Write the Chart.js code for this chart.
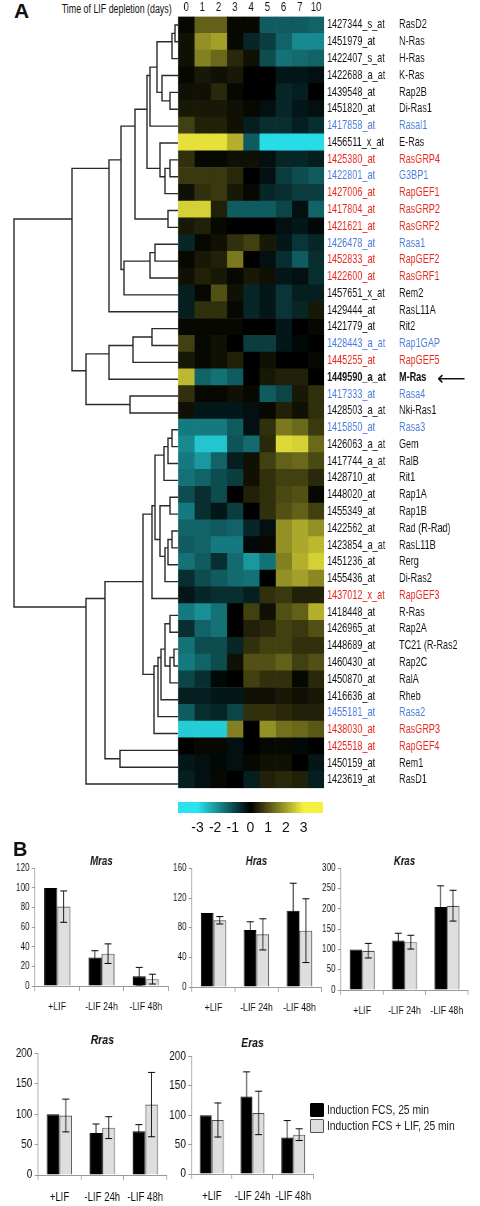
<!DOCTYPE html>
<html>
<head>
<meta charset="utf-8">
<title>Ras family expression</title>
<script src="https://cdn.jsdelivr.net/npm/chart.js@4.4.1/dist/chart.umd.min.js"></script>
<style>
  body { margin: 0; background: #fff; }
  #page { position: relative; width: 480px; height: 1206px; overflow: hidden; background: #fff; }
  #page canvas, #page .txt, #page .key { position: absolute; }
  .txt { font-family: 'Liberation Sans', Arial, sans-serif; color: #111; white-space: nowrap; }
  .panel { font-weight: bold; }
  .key { width: 12px; height: 12px; border: 1px solid #505050; border-radius: 1px; }
  .keytxt { font-size: 12px; line-height: 14px; transform: scaleX(0.86); transform-origin: 0 0; color: #222; }
</style>
</head>
<body>
<div id="page">
  <div class="txt panel" style="left:14px;top:-1px;font-size:21px;">A</div>
  <div class="txt" style="right:308px;top:2px;font-size:12.3px;transform:scaleX(0.72);transform-origin:100% 0;">Time of LIF depletion (days)</div>
  <canvas id="dendro"></canvas>
  <canvas id="heat"></canvas>
  <div class="txt" style="left:437px;top:367px;font-size:20px;line-height:22px;font-family:'DejaVu Sans',sans-serif;">&#x27F5;</div>
  <canvas id="cbar"></canvas>
  <div class="txt panel" style="left:13px;top:838px;font-size:20px;">B</div>
  <canvas id="mras"></canvas>
  <canvas id="hras"></canvas>
  <canvas id="kras"></canvas>
  <canvas id="rras"></canvas>
  <canvas id="eras"></canvas>
  <div class="key" style="left:310px;top:1103px;background:#000;border-color:#000;"></div>
  <div class="txt keytxt" id="key0" style="left:327px;top:1103px;"></div>
  <div class="key" style="left:310px;top:1119px;background:#dedede;"></div>
  <div class="txt keytxt" id="key1" style="left:327px;top:1119px;"></div>
</div>
<script>
// ---- panel A data ----
const days = ['0', '1', '2', '3', '4', '5', '6', '7', '10'];
const probes = ['1427344_s_at','1451979_at','1422407_s_at','1422688_a_at','1439548_at','1451820_at',
  '1417858_at','1456511_x_at','1425380_at','1422801_at','1427006_at','1417804_at','1421621_at',
  '1426478_at','1452833_at','1422600_at','1457651_x_at','1429444_at','1421779_at','1428443_a_at',
  '1445255_at','1449590_a_at','1417333_at','1428503_a_at','1415850_at','1426063_a_at','1417744_a_at',
  '1428710_at','1448020_at','1455349_at','1422562_at','1423854_a_at','1451236_at','1455436_at',
  '1437012_x_at','1418448_at','1426965_at','1448689_at','1460430_at','1450870_at','1416636_at',
  '1455181_at','1438030_at','1425518_at','1450159_at','1423619_at'];
const genes = ['RasD2','N-Ras','H-Ras','K-Ras','Rap2B','Di-Ras1','Rasal1','E-Ras','RasGRP4','G3BP1',
  'RapGEF1','RasGRP2','RasGRF2','Rasa1','RapGEF2','RasGRF1','Rem2','RasL11A','Rit2','Rap1GAP',
  'RapGEF5','M-Ras','Rasa4','Nki-Ras1','Rasa3','Gem','RalB','Rit1','Rap1A','Rap1B','Rad (R-Rad)',
  'RasL11B','Rerg','Di-Ras2','RapGEF3','R-Ras','Rap2A','TC21 (R-Ras2','Rap2C','RalA','Rheb','Rasa2',
  'RasGRP3','RapGEF4','Rem1','RasD1'];
const GAPS = ['Rasal1','G3BP1','Rasa1','Rap1GAP','Rasa4','Rasa3','Rasa2'];
const GEFS = ['RasGRP4','RapGEF1','RasGRP2','RasGRF2','RapGEF2','RasGRF1','RapGEF5','RapGEF3','RasGRP3','RapGEF4'];
const markedGene = 'M-Ras';

// log-ratio per probe, columns follow days
const expr = [
  [0.1, 1.2, 1.2, 0.1, 0.1, -1.2, -1.2, -1.2, -1.3],
  [0.2, 1.8, 2.0, 0.1, -0.5, -0.8, -1.3, -1.8, -1.8],
  [0.2, 1.6, 1.3, 0.5, 0.2, -1.0, -1.5, -1.4, -1.3],
  [0.1, 0.3, 0.2, 0.3, 0.0, 0.0, -0.3, -0.3, -0.2],
  [0.2, 0.2, 0.5, 0.1, 0.0, 0.0, -0.5, -0.4, 0.0],
  [0.3, 0.3, 0.3, 0.2, 0.1, -0.2, -0.5, -0.3, -0.2],
  [0.8, 0.4, 0.4, 0.2, -0.4, -0.6, -0.6, -0.4, -0.6],
  [2.8, 2.8, 2.8, 2.2, -1.2, -2.9, -2.9, -2.9, -2.9],
  [0.6, 0.1, 0.1, 0.2, 0.2, -0.2, -0.5, -0.5, -0.4],
  [0.7, 0.7, 0.7, 0.5, 0.0, -0.2, -0.8, -1.0, -1.2],
  [0.2, 0.6, 0.7, 0.3, 0.1, -0.5, -0.6, -0.8, -0.8],
  [2.6, 2.6, 0.4, -1.2, -1.2, -1.2, -0.9, -0.2, -1.3],
  [0.3, 0.4, 0.1, 0.0, 0.0, 0.0, -0.2, -0.3, -0.1],
  [-0.5, 0.1, 0.2, 0.6, 0.8, 0.3, -0.3, -0.7, -0.5],
  [0.1, 0.3, 0.4, 1.5, 0.0, -0.2, -0.6, -1.2, -0.6],
  [0.2, 0.4, 0.3, 0.1, 0.3, 0.2, -0.3, -0.2, -0.6],
  [-0.4, 0.1, 1.0, 0.2, -0.5, -0.3, -0.7, -0.4, -0.4],
  [-0.4, 0.6, 0.6, 0.1, -0.5, -0.3, -0.7, -0.5, 0.3],
  [0.1, 0.1, 0.1, 0.1, 0.0, 0.0, -0.3, 0.0, 0.1],
  [0.8, 0.1, 0.2, 0.0, -0.8, -0.8, -0.3, -0.1, 0.0],
  [0.3, 0.1, 0.2, 0.4, 0.0, 0.2, 0.0, 0.0, 0.1],
  [2.3, -1.3, -1.5, -1.2, 0.0, 0.3, 0.4, 0.4, 0.0],
  [0.6, 0.1, 0.1, 0.2, 0.1, -1.2, -0.9, 0.3, 0.6],
  [0.2, -0.3, -0.3, -0.3, -0.2, 0.1, 0.4, 0.2, 0.6],
  [-1.6, -1.6, -1.6, -1.2, -0.2, 0.6, 1.5, 1.3, 0.7],
  [-1.8, -2.6, -2.6, -1.1, -1.4, 0.5, 2.7, 2.6, 1.3],
  [-1.6, -2.0, -1.3, -0.4, 0.2, 0.8, 1.2, 1.3, 0.9],
  [-1.5, -1.3, -1.0, -0.8, 0.2, 0.6, 0.8, 0.8, 0.5],
  [-1.0, -0.6, -1.0, 0.0, 0.4, 0.6, 0.9, 1.0, 0.1],
  [-1.6, -0.6, -0.3, -0.8, 0.0, 0.6, 1.0, 1.2, 0.8],
  [-1.3, -1.3, -1.2, -1.3, -0.5, -0.2, 1.8, 2.1, 1.8],
  [-1.2, -1.3, -1.6, -1.6, -0.1, 0.1, 1.8, 2.1, 2.3],
  [-1.5, -1.2, -0.6, -1.4, -2.0, -1.5, 1.6, 2.2, 2.6],
  [-0.6, -1.0, -1.2, -1.4, -1.5, 0.0, 1.8, 2.0, 1.7],
  [-0.3, -0.5, -0.6, -0.6, -0.4, 0.6, 0.7, 0.4, 0.4],
  [-1.6, -1.9, -1.5, 0.0, 0.8, 0.2, 1.0, 1.2, 2.2],
  [-0.6, -1.3, -1.5, 0.0, 0.4, 0.5, 0.8, 0.7, 1.0],
  [-1.5, -1.0, -1.0, -0.5, 0.6, 0.8, 0.8, 0.6, 0.6],
  [-1.6, -1.3, -1.0, 0.2, 1.0, 1.0, 1.2, 0.8, 1.0],
  [-0.9, -0.6, -0.1, 0.0, 0.8, 0.6, 0.6, 0.1, 0.5],
  [-0.4, -0.4, -0.3, -0.3, 0.2, 0.2, 0.3, 0.2, 0.3],
  [-1.2, -0.6, -0.5, -0.9, 0.6, 0.6, 0.5, 0.4, 0.4],
  [-2.7, -2.7, -2.7, 1.6, 0.0, 1.8, 1.4, 1.3, 1.1],
  [0.0, 0.1, 0.1, -0.2, 0.0, 0.1, 0.1, -0.1, 0.0],
  [-0.3, -0.2, -0.1, -0.2, 0.1, 0.2, 0.2, 0.0, -0.3],
  [-0.4, -0.2, 0.1, 0.0, -0.4, 0.4, 0.5, 0.4, -0.4]
];

// hierarchical clustering: [child a, child b, distance]; ids >= 46 are earlier merges
const merges = [
  [0, 1, 3], [46, 2, 6], [4, 5, 8], [3, 48, 16], [47, 49, 21], [50, 6, 28],
  [8, 9, 8], [52, 10, 13], [7, 53, 18], [51, 54, 31], [11, 12, 10], [55, 56, 43],
  [13, 14, 23], [58, 15, 28], [59, 16, 54], [57, 60, 57], [61, 17, 69],
  [18, 19, 26], [63, 20, 45], [64, 21, 69], [22, 23, 48], [65, 66, 92], [62, 67, 106],
  [24, 25, 6], [69, 26, 10], [70, 27, 14], [28, 29, 8], [30, 31, 6], [73, 32, 10],
  [74, 33, 13], [72, 75, 18], [71, 76, 23], [77, 34, 26],
  [35, 36, 8], [37, 38, 4], [80, 39, 8], [79, 81, 13], [82, 40, 17], [83, 41, 20],
  [84, 42, 24], [78, 85, 35], [43, 44, 58], [86, 87, 73], [88, 45, 92], [68, 89, 164]
];

const scaleTicks = [-3, -2, -1, 0, 1, 2, 3];

// ---- panel B data ----
const conditions = ['+LIF', '-LIF 24h', '-LIF 48h'];
const seriesNames = ['Induction FCS, 25 min', 'Induction FCS + LIF, 25 min'];
const mrasFcs = [100, 29, 10],   mrasFcsErr = [0, 7, 9];
const mrasLif = [81, 33, 7],     mrasLifErr = [16, 10, 5];
const hrasFcs = [100, 77, 103],  hrasFcsErr = [0, 11, 37];
const hrasLif = [90, 71, 76],    hrasLifErr = [5, 21, 43];
const krasFcs = [100, 122, 205], krasFcsErr = [0, 18, 52];
const krasLif = [97, 118, 208],  krasLifErr = [18, 17, 38];
const rrasFcs = [100, 69, 72],   rrasFcsErr = [0, 15, 11];
const rrasLif = [98, 78, 116],   rrasLifErr = [27, 18, 53];
const erasFcs = [100, 132, 62],  erasFcsErr = [0, 42, 29];
const erasLif = [92, 104, 67],   erasLifErr = [29, 37, 10];

const SANS = "'Liberation Sans', Arial, sans-serif";
const SX_A = 0.7;    // the scanned figure is horizontally condensed
const SX_B = 0.8;
Chart.defaults.font.family = SANS;
Chart.defaults.color = '#111';
Chart.defaults.animation = false;
Chart.defaults.responsive = false;
Chart.defaults.plugins.tooltip.enabled = false;

function place(id, left, top, w, h, sx) {
  const c = document.getElementById(id);
  c.width = Math.round(w / sx);
  c.height = h;
  Object.assign(c.style, {
    left: left + 'px', top: top + 'px',
    width: c.width + 'px', height: h + 'px',
    transform: `scaleX(${sx})`, transformOrigin: '0 0'
  });
  return c;
}

function cellColor(v) {
  const t = Math.max(-1, Math.min(1, v / 3));
  if (t >= 0) return `rgb(${Math.round(245 * t)},${Math.round(240 * t)},${Math.round(62 * t)})`;
  const s = -t;
  return `rgb(${Math.round(40 * s)},${Math.round(228 * s)},${Math.round(238 * s)})`;
}

function labelColor(i) {
  if (GAPS.includes(genes[i])) return '#4a7bdb';
  if (GEFS.includes(genes[i])) return '#e8261e';
  return '#111';
}

function labelFont(i) {
  return { family: SANS, size: 13, weight: genes[i] === markedGene ? 'bold' : 'normal' };
}

// dendrogram: a cluster sits halfway between its first and last leaf
const lo = probes.map((_, i) => i);
const hi = probes.map((_, i) => i);
const dist = probes.map(() => 0);
const links = merges.map(([a, b, h]) => {
  const ya = (lo[a] + hi[a]) / 2, yb = (lo[b] + hi[b]) / 2;
  lo.push(Math.min(lo[a], lo[b]));
  hi.push(Math.max(hi[a], hi[b]));
  dist.push(h);
  return [{ x: dist[a], y: ya }, { x: h, y: ya }, { x: h, y: yb }, { x: dist[b], y: yb }];
});

new Chart(place('dendro', 0, 0, 178, 800, 1), {
  type: 'scatter',
  data: {
    datasets: links.map(pts => ({
      data: pts, showLine: true, borderColor: '#2a2a2a', borderWidth: 1.4,
      pointRadius: 0, clip: false
    }))
  },
  options: {
    layout: { padding: { left: 14, right: 0, top: 16.5, bottom: 7.5 } },
    plugins: { legend: { display: false } },
    scales: {
      x: { type: 'linear', display: false, reverse: true, min: 0, max: merges[merges.length - 1][2] },
      y: { type: 'linear', display: false, reverse: true, min: -0.5, max: probes.length - 0.5 }
    }
  }
});

// heatmap: one floating bar per cell
new Chart(place('heat', 0, 0, 480, 800, SX_A), {
  type: 'bar',
  data: {
    labels: probes,
    datasets: days.map((d, c) => ({
      label: d,
      data: probes.map(() => [c, c + 1]),
      backgroundColor: expr.map(row => cellColor(row[c])),
      borderWidth: 0,
      grouped: false,
      barPercentage: 1,
      categoryPercentage: 1
    }))
  },
  options: {
    indexAxis: 'y',
    layout: { padding: { left: 178 / SX_A, right: 0, top: 0, bottom: 7.5 } },
    plugins: { legend: { display: false } },
    scales: {
      x: {
        type: 'linear', position: 'top', min: 0, max: days.length,
        grid: { display: false, drawTicks: false }, border: { display: false },
        afterBuildTicks: s => { s.ticks = days.map((d, i) => ({ value: i + 0.5 })); },
        ticks: { callback: (v, i) => days[i], padding: 1, font: { size: 13.5 }, maxRotation: 0, autoSkip: false },
        afterFit: s => { s.height = 16.5; }
      },
      y: {
        position: 'right',
        grid: { display: false, drawTicks: false }, border: { display: false },
        ticks: { padding: 4, autoSkip: false, color: ctx => labelColor(ctx.index), font: ctx => labelFont(ctx.index) },
        afterFit: s => { s.width = 72 / SX_A; }
      },
      y2: {
        type: 'category', position: 'right', offset: true, labels: genes,
        grid: { display: false, drawTicks: false }, border: { display: false },
        ticks: { padding: 4, autoSkip: false, color: ctx => labelColor(ctx.index), font: ctx => labelFont(ctx.index) },
        afterFit: s => { s.width = 84 / SX_A; }
      }
    }
  }
});

// colour key
new Chart(place('cbar', 0, 795, 480, 45, 1), {
  type: 'bar',
  data: {
    labels: ['key'],
    datasets: [{
      data: [[-4.1, 4.1]],
      barPercentage: 1, categoryPercentage: 1, borderWidth: 0,
      backgroundColor: ctx => {
        const chart = ctx.chart;
        if (!chart.chartArea) return '#000';
        const xs = chart.scales.x;
        const g = chart.ctx.createLinearGradient(xs.getPixelForValue(-3), 0, xs.getPixelForValue(3), 0);
        scaleTicks.forEach((v, i) => g.addColorStop(i / (scaleTicks.length - 1), cellColor(v)));
        return g;
      }
    }]
  },
  options: {
    indexAxis: 'y',
    layout: { padding: { left: 178, right: 157, top: 7, bottom: 0 } },
    plugins: { legend: { display: false } },
    scales: {
      x: {
        type: 'linear', min: -4.1, max: 4.1,
        grid: { display: false, drawTicks: false }, border: { display: false },
        afterBuildTicks: s => { s.ticks = scaleTicks.map(v => ({ value: v })); },
        ticks: { padding: 7, font: { size: 14 }, color: '#111' },
        afterFit: s => { s.height = 27; }
      },
      y: { display: false }
    }
  }
});

// error bars drawn through the value scale
const errorBars = {
  id: 'errorBars',
  afterDatasetsDraw(chart) {
    const { ctx } = chart;
    const y = chart.scales.y;
    const cap = 3.5 / SX_B;
    ctx.save();
    ctx.strokeStyle = '#000';
    ctx.lineWidth = 1;
    chart.data.datasets.forEach((ds, di) => {
      chart.getDatasetMeta(di).data.forEach((bar, i) => {
        const e = ds.errors[i];
        if (!e) return;
        const top = y.getPixelForValue(ds.data[i] + e);
        const bot = y.getPixelForValue(ds.data[i] - e);
        ctx.beginPath();
        ctx.moveTo(bar.x, top); ctx.lineTo(bar.x, bot);
        ctx.moveTo(bar.x - cap, top); ctx.lineTo(bar.x + cap, top);
        ctx.moveTo(bar.x - cap, bot); ctx.lineTo(bar.x + cap, bot);
        ctx.stroke();
      });
    });
    ctx.restore();
  }
};

function barChart(id, title, fcs, fcsErr, lif, lifErr, yMax, step, box) {
  const big = box.big;
  const canvas = place(id, box.left, box.top, box.w, box.h, SX_B);
  const axisW = (box.plotLeft - box.left) / SX_B;
  const padRight = canvas.width - (box.plotRight - box.left) / SX_B;
  return new Chart(canvas, {
    type: 'bar',
    data: {
      labels: conditions,
      datasets: [
        { label: seriesNames[0], data: fcs, errors: fcsErr, backgroundColor: '#000', borderColor: '#000', borderWidth: 1 },
        { label: seriesNames[1], data: lif, errors: lifErr, backgroundColor: '#dedede', borderColor: '#505050', borderWidth: 1.2 }
      ]
    },
    options: {
      datasets: { bar: { categoryPercentage: 0.59, barPercentage: 1 } },
      layout: { padding: { left: 0, right: padRight, top: 0, bottom: 0 } },
      plugins: {
        title: {
          display: true, text: title, fullSize: false, color: '#111',
          font: { size: big ? 13 : 12, style: 'italic', weight: 'bold' },
          padding: big ? { top: 0, bottom: 5 } : { top: 5, bottom: 0 }
        },
        legend: { display: false }
      },
      scales: {
        x: {
          grid: { display: true, drawOnChartArea: false, tickLength: 5, color: '#999', offset: true },
          border: { color: '#999' },
          ticks: { padding: big ? 10 : 9, font: { size: big ? 12 : 11 }, maxRotation: 0, autoSkip: false },
          afterFit: s => { s.height = box.xAxisH; }
        },
        y: {
          min: 0, max: yMax,
          grid: { drawOnChartArea: false, tickLength: 4, color: '#999' },
          border: { color: '#999' },
          ticks: { stepSize: step, padding: 3, font: { size: big ? 12.5 : 10 } },
          afterFit: s => { s.width = axisW; }
        }
      }
    },
    plugins: [errorBars]
  });
}

barChart('mras', 'Mras', mrasFcs, mrasFcsErr, mrasLif, mrasLifErr, 120, 20,
  { left: 0, top: 849, w: 172, h: 167, plotLeft: 35, plotRight: 168, xAxisH: 30 });
barChart('hras', 'Hras', hrasFcs, hrasFcsErr, hrasLif, hrasLifErr, 160, 20,
  { left: 165, top: 849, w: 160, h: 168, plotLeft: 192, plotRight: 321, xAxisH: 30 });
barChart('kras', 'Kras', krasFcs, krasFcsErr, krasLif, krasLifErr, 300, 50,
  { left: 318, top: 849, w: 162, h: 171, plotLeft: 341, plotRight: 468, xAxisH: 30 });
barChart('rras', 'Rras', rrasFcs, rrasFcsErr, rrasLif, rrasLifErr, 200, 50,
  { left: 0, top: 1033, w: 172, h: 173, plotLeft: 38, plotRight: 168.5, xAxisH: 31, big: true });
barChart('eras', 'Eras', erasFcs, erasFcsErr, erasLif, erasLifErr, 200, 50,
  { left: 165, top: 1036, w: 155, h: 170, plotLeft: 191.5, plotRight: 314.5, xAxisH: 32, big: true });

document.getElementById('key0').textContent = seriesNames[0];
document.getElementById('key1').textContent = seriesNames[1];
</script>
</body>
</html>
